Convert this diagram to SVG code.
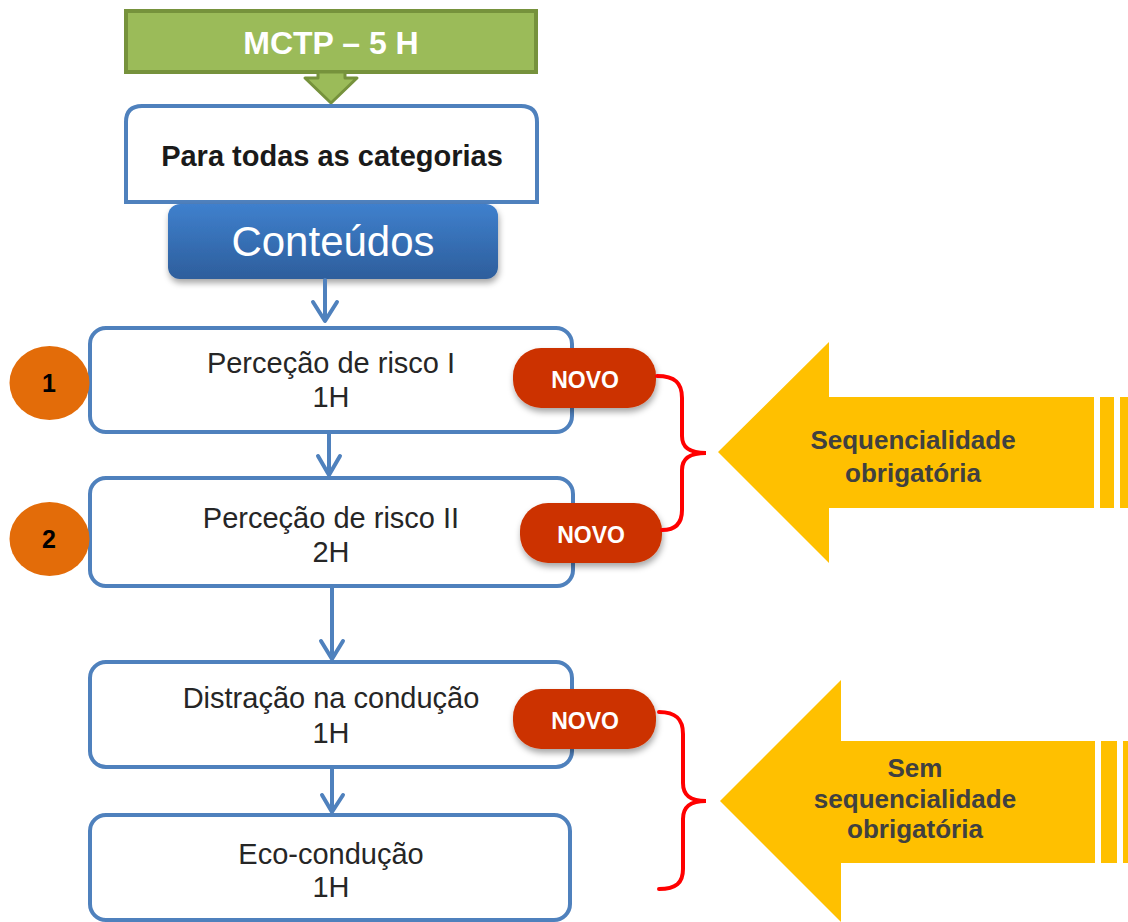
<svg xmlns="http://www.w3.org/2000/svg" width="1128" height="922" viewBox="0 0 1128 922">
<defs>
<linearGradient id="gBlue" x1="0" y1="0" x2="0" y2="1">
<stop offset="0" stop-color="#3F80CD"/>
<stop offset="1" stop-color="#2D5E9C"/>
</linearGradient>
<filter id="shadow" x="-20%" y="-20%" width="140%" height="150%">
<feDropShadow dx="1" dy="4" stdDeviation="3" flood-color="#000" flood-opacity="0.35"/>
</filter>
</defs>
<style>
.box{fill:#fff;stroke:#4F81BD;stroke-width:4}
.conn{fill:none;stroke:#4F81BD;stroke-width:4;stroke-linecap:round;stroke-linejoin:round}
.t{font-family:"Liberation Sans",Arial,sans-serif;font-size:29px;fill:#262626;text-anchor:middle}
.novo rect{fill:#CC3300}
.novo text{font-family:"Liberation Sans",Arial,sans-serif;font-size:23px;font-weight:bold;fill:#fff;text-anchor:middle}
.circ ellipse{fill:#E36C09}
.ct{font-family:"Liberation Sans",Arial,sans-serif;font-weight:bold;fill:#000;text-anchor:middle}
.brace{fill:none;stroke:#FF0000;stroke-width:4;stroke-linecap:round}
.yarrow{fill:#FFC000}
.yt{font-family:"Liberation Sans",Arial,sans-serif;font-size:26px;font-weight:bold;fill:#404040;text-anchor:middle}
</style>

<g id="mctp">
<rect x="126" y="11" width="410" height="61" fill="#9BBB59" stroke="#76923C" stroke-width="4"/>
<text x="331" y="54" font-family="Liberation Sans,Arial,sans-serif" font-size="32" font-weight="bold" fill="#fff" text-anchor="middle">MCTP – 5 H</text>
<polygon points="318,72 345,72 345,78 357,78 331,103 305,78 318,78" fill="#9BBB59" stroke="#76923C" stroke-width="3" stroke-linejoin="round"/>
</g>

<g id="categorias">
<path class="box" d="M126 202 L126 122 Q126 106 142 106 L521 106 Q537 106 537 122 L537 202 Z"/>
<text x="332" y="166" font-family="Liberation Sans,Arial,sans-serif" font-size="29" font-weight="bold" fill="#1A1A1A" text-anchor="middle">Para todas as categorias</text>
</g>

<g id="conteudos">
<rect x="168" y="204" width="330" height="75" rx="12" fill="url(#gBlue)" filter="url(#shadow)"/>
<text x="333" y="256" font-family="Liberation Sans,Arial,sans-serif" font-size="42" fill="#fff" text-anchor="middle">Conteúdos</text>
</g>

<g id="connectors">
<path class="conn" d="M325 280 L325 320 M313 302 L325 321 L337 302"/>
<path class="conn" d="M329 434 L329 474 M318 456 L329 475 L340 456"/>
<path class="conn" d="M332 588 L332 658 M321 641 L332 659 L343 641"/>
<path class="conn" d="M332 769 L332 811 M322 795 L332 812 L343 795"/>
</g>

<g id="box1">
<rect class="box" x="90" y="328" width="482" height="104" rx="16"/>
<text class="t" x="331" y="373">Perceção de risco I</text>
<text class="t" x="331" y="407">1H</text>
</g>
<g id="box2">
<rect class="box" x="90" y="478" width="483" height="108" rx="16"/>
<text class="t" x="331" y="528">Perceção de risco II</text>
<text class="t" x="331" y="562">2H</text>
</g>
<g id="box3">
<rect class="box" x="90" y="662" width="482" height="105" rx="16"/>
<text class="t" x="331" y="708">Distração na condução</text>
<text class="t" x="331" y="743">1H</text>
</g>
<g id="box4">
<rect class="box" x="90" y="815" width="480" height="105" rx="16"/>
<text class="t" x="331" y="864">Eco-condução</text>
<text class="t" x="331" y="897">1H</text>
</g>

<g id="circle1" class="circ">
<ellipse cx="49.5" cy="383" rx="40" ry="37"/>
<text class="ct" x="49" y="392" font-size="25">1</text>
</g>
<g id="circle2" class="circ">
<ellipse cx="49.5" cy="539" rx="40" ry="37"/>
<text class="ct" x="49" y="548" font-size="25">2</text>
</g>

<g id="novo1" class="novo">
<rect x="513" y="348" width="143" height="60" rx="28" filter="url(#shadow)"/>
<text x="585" y="388">NOVO</text>
</g>
<g id="novo2" class="novo">
<rect x="520" y="503" width="142" height="60" rx="28" filter="url(#shadow)"/>
<text x="591" y="543">NOVO</text>
</g>
<g id="novo3" class="novo">
<rect x="513" y="689" width="143" height="60" rx="28" filter="url(#shadow)"/>
<text x="585" y="729">NOVO</text>
</g>

<g id="brace1">
<path class="brace" d="M657 376 C675 376 682 383 682 398 L682 436 C682 448 690 453 706 453 C690 453 682 458 682 470 L682 510 C682 524 675 530 662 530"/>
</g>
<g id="brace2">
<path class="brace" d="M659 712 C676 712 683 719 683 734 L683 783 C683 795 690 801 706 801 C690 801 683 807 683 819 L683 869 C683 883 676 889 659 889"/>
</g>

<g id="arrow1">
<polygon class="yarrow" points="718,452 829,342 829,397 1094,397 1094,508 829,508 829,563"/>
<rect class="yarrow" x="1100" y="397" width="14" height="111"/>
<rect class="yarrow" x="1120" y="397" width="8" height="111"/>
<text class="yt" x="913" y="449">Sequencialidade</text>
<text class="yt" x="913" y="482">obrigatória</text>
</g>
<g id="arrow2">
<polygon class="yarrow" points="720,801 841,680 841,741 1095,741 1095,863 841,863 841,922"/>
<rect class="yarrow" x="1101" y="741" width="16" height="122"/>
<rect class="yarrow" x="1123" y="741" width="5" height="122"/>
<text class="yt" x="915" y="777">Sem</text>
<text class="yt" x="915" y="808">sequencialidade</text>
<text class="yt" x="915" y="838">obrigatória</text>
</g>
</svg>
